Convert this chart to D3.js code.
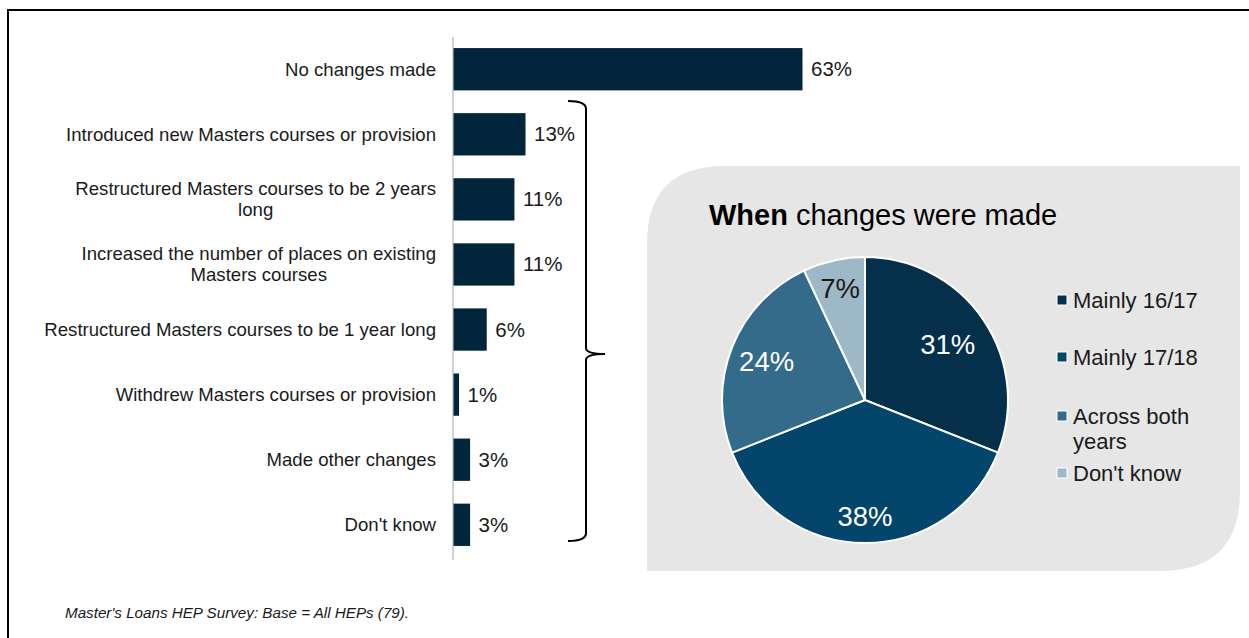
<!DOCTYPE html>
<html>
<head>
<meta charset="utf-8">
<script src="https://cdn.jsdelivr.net/npm/d3@7/dist/d3.min.js"></script>
<style>
  body { margin: 0; background: #fff; }
  svg { display: block; font-family: "Liberation Sans", Arial, sans-serif; }
</style>
</head>
<body>
<svg id="chart" width="1249" height="638"></svg>
<script>
const categories = [
  ['No changes made'],
  ['Introduced new Masters courses or provision'],
  ['Restructured Masters courses to be 2 years', 'long'],
  ['Increased the number of places on existing', 'Masters courses'],
  ['Restructured Masters courses to be 1 year long'],
  ['Withdrew Masters courses or provision'],
  ['Made other changes'],
  ["Don't know"]
]
const barValues = [63, 13, 11, 11, 6, 1, 3, 3]

const pieLabels = ['Mainly 16/17', 'Mainly 17/18', 'Across both years', "Don't know"]
const pieValues = [31, 38, 24, 7]
const pieColors = ['#05304b', '#03456b', '#346b8b', '#9db9c8']

const svg = d3.select('#chart')

// frame
svg.append('path')
  .attr('d', 'M8,640 V10 H1252')
  .attr('fill', 'none')
  .attr('stroke', '#000')
  .attr('stroke-width', 2)

// bars
const x0 = 453
const xScale = d3.scaleLinear().domain([0, 63]).range([x0, 802])
const yScale = d3.scaleBand()
  .domain(d3.range(categories.length))
  .range([37, 557])
  .paddingInner(0.35)
  .paddingOuter(0.17)

svg.append('line')
  .attr('x1', x0).attr('x2', x0)
  .attr('y1', 37).attr('y2', 560)
  .attr('stroke', '#a6a6a6')
  .attr('stroke-width', 1)

svg.selectAll('.bar')
  .data(barValues)
  .join('rect')
  .attr('class', 'bar')
  .attr('x', x0 + 0.5)
  .attr('y', (d, i) => yScale(i))
  .attr('width', d => xScale(d) - x0)
  .attr('height', yScale.bandwidth())
  .attr('fill', '#01263c')

svg.selectAll('.val')
  .data(barValues)
  .join('text')
  .attr('class', 'val')
  .attr('x', d => xScale(d) + 9)
  .attr('y', (d, i) => yScale(i) + yScale.bandwidth() / 2 + 7)
  .attr('font-size', 20.5)
  .attr('fill', '#1a1a1a')
  .text(d => d + '%')

categories.forEach((lines, i) => {
  let g = svg.append('text')
    .attr('font-size', 18.6)
    .attr('fill', '#1a1a1a')
  let cy = yScale(i) + yScale.bandwidth() / 2
  let lh = 21
  let top = cy - (lines.length - 1) * lh / 2 + 6.5
  lines.forEach((l, j) => {
    g.append('tspan').attr('y', top + j * lh).text(l)
  })
  let widths = []
  g.selectAll('tspan').each(function() { widths.push(this.getComputedTextLength()) })
  let mw = d3.max(widths)
  g.attr('text-anchor', 'middle')
  g.selectAll('tspan').attr('x', 436 - mw / 2)
})

// brace
const bTop = 101, bBot = 541, bMid = 354
svg.append('path')
  .attr('d', `M568,${bTop} Q586,${bTop} 586,${bTop + 8} V${bMid - 6} Q586,${bMid} 605,${bMid} Q586,${bMid} 586,${bMid + 6} V${bBot - 8} Q586,${bBot} 568,${bBot}`)
  .attr('fill', 'none')
  .attr('stroke', '#000')
  .attr('stroke-width', 2)

// pie panel
const px = 647, py = 166, pw = 593, ph = 405, r1 = 78, r2 = 80
svg.append('path')
  .attr('d', `M${px},${py + r1} Q${px},${py} ${px + r1},${py} H${px + pw} V${py + ph - r2} Q${px + pw},${py + ph} ${px + pw - r2},${py + ph} H${px} Z`)
  .attr('fill', '#e6e6e6')

svg.append('text')
  .attr('x', 709)
  .attr('y', 225)
  .attr('font-size', 29)
  .attr('fill', '#000')
  .call(t => {
    t.append('tspan').attr('font-weight', 'bold').text('When')
    t.append('tspan').text(' changes were made')
  })

const cx = 865, cy = 400, R = 143
const pie = d3.pie().sort(null)
const arc = d3.arc().innerRadius(0).outerRadius(R)
const arcs = pie(pieValues)

const pg = svg.append('g').attr('transform', `translate(${cx},${cy})`)
pg.selectAll('path')
  .data(arcs)
  .join('path')
  .attr('d', arc)
  .attr('fill', (d, i) => pieColors[i])
  .attr('stroke', '#fff')
  .attr('stroke-width', 2)

// label distance from centre, as a share of the radius
const labelR = [0.7, 0.81, 0.74, 0.8]
pg.selectAll('.plabel')
  .data(arcs)
  .join('text')
  .attr('class', 'plabel')
  .attr('x', (d, i) => d3.arc().innerRadius(R * labelR[i]).outerRadius(R * labelR[i]).centroid(d)[0])
  .attr('y', (d, i) => d3.arc().innerRadius(R * labelR[i]).outerRadius(R * labelR[i]).centroid(d)[1] + 10)
  .attr('text-anchor', 'middle')
  .attr('font-size', 27.5)
  .attr('fill', (d, i) => i === 3 ? '#1a1a1a' : '#fff')
  .text(d => d.data + '%')

// legend
const legendY = [300, 357, 416, 473]
pieLabels.forEach((lab, i) => {
  svg.append('rect')
    .attr('x', 1057).attr('y', legendY[i] - 5)
    .attr('width', 10).attr('height', 10)
    .attr('fill', pieColors[i])
    .attr('stroke', '#fff')
    .attr('stroke-width', 1)
  let lines = lab === 'Across both years' ? ['Across both', 'years'] : [lab]
  let t = svg.append('text').attr('font-size', 22).attr('fill', '#1a1a1a')
  lines.forEach((l, j) => {
    t.append('tspan').attr('x', 1073).attr('y', legendY[i] + 8 + j * 25).text(l)
  })
})

// footnote
svg.append('text')
  .attr('x', 65)
  .attr('y', 618)
  .attr('font-size', 15.2)
  .attr('font-style', 'italic')
  .attr('fill', '#1a1a1a')
  .text("Master's  Loans HEP Survey: Base = All HEPs (79).")
</script>
</body>
</html>
